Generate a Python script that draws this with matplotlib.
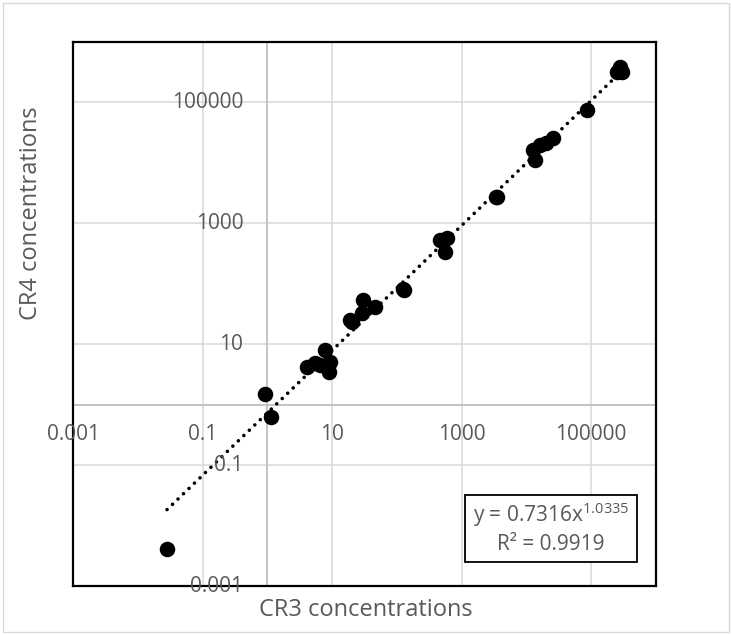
import numpy as np
import matplotlib
matplotlib.use("Agg")
import matplotlib.pyplot as plt
import matplotlib.transforms as mtrans
from matplotlib.patches import Rectangle

plt.rcParams['font.family'] = ['Open Sans', 'DejaVu Sans']
plt.rcParams['mathtext.fontset'] = 'custom'
plt.rcParams['mathtext.rm'] = 'Open Sans'

# data (log-log)
cr3 = [0.0283, 0.92, 1.14, 4.08, 5.43, 6.5, 7.75, 9.25, 8.93,
       18.8, 20.2, 28.8, 29.9, 45.7, 124, 130, 461, 592, 551,
       3490, 3400, 12560, 16100, 25500, 13500, 20000, 85500,
       248000, 296000, 276000]
cr4 = [0.0041, 1.48, 0.62, 4.17, 4.85, 4.5, 7.96, 5.03, 3.44,
       24.9, 23.1, 32.5, 53.3, 40.9, 81, 78, 524, 565, 332,
       2690, 2750, 16100, 19450, 25400, 11000, 21000, 73800,
       313000, 313000, 379000]

# power trendline reported on the chart
coef_a = 0.7316
coef_b = 1.0335
r2 = 0.9919

tick_vals = [1e-3, 1e-1, 1e1, 1e3, 1e5]
tick_labels = ["0.001", "0.1", "10", "1000", "100000"]

grey_txt = "#595959"

fig = plt.figure(figsize=(7.32, 6.35), dpi=100)
ax = fig.add_axes([73 / 732, 1 - 586 / 635, (656 - 73) / 732, (586 - 42) / 635])

ax.set_xscale('log')
ax.set_yscale('log')
ax.set_xlim(1e-3, 1e6)
ax.set_ylim(1e-3, 1e6)
ax.set_xticks(tick_vals)
ax.set_yticks(tick_vals)
ax.minorticks_off()
ax.tick_params(length=0, labelbottom=False, labelleft=False)
ax.grid(True, color="#d9d9d9", linewidth=1.1)
ax.set_axisbelow(True)
for sp in ax.spines.values():
    sp.set_color("black")
    sp.set_linewidth(1.6)

# axes crossing at 1
ax.axhline(1, color="#bfbfbf", linewidth=1.3, zorder=1)
ax.axvline(1, color="#bfbfbf", linewidth=1.3, zorder=1)

# tick labels next to the crossing axes
tx = mtrans.offset_copy(ax.transData, fig=fig, x=0, y=-30, units='dots')
for v, lab in zip(tick_vals, tick_labels):
    ax.text(v, 1, lab, transform=tx, ha='center', va='center',
            fontsize=15, color=grey_txt, clip_on=False)
ty = mtrans.offset_copy(ax.transData, fig=fig, x=-24, y=0, units='dots')
for v, lab in zip(tick_vals, tick_labels):
    ax.text(1, v, lab, transform=ty, ha='right', va='center',
            fontsize=15, color=grey_txt, clip_on=False)

# points
ax.scatter(cr3, cr4, s=125, color="black", zorder=3, linewidths=0)

# trendline
xs = np.logspace(np.log10(min(cr3)), np.log10(max(cr3)), 200)
ax.plot(xs, coef_a * xs ** coef_b, color="black", linewidth=2.6,
        linestyle=(0, (0.01, 2.1)), dash_capstyle='round', zorder=2)

# axis titles
fig.text(366 / 732, 1 - 610 / 635, "CR3 concentrations", ha='center', va='center',
         fontsize=17, color=grey_txt)
fig.text(31 / 732, 1 - 213 / 635, "CR4 concentrations", ha='center', va='center',
         rotation=90, fontsize=17, color=grey_txt)

# equation box
fig.patches.append(Rectangle((465 / 732, 1 - 562 / 635), (637 - 465) / 732, (562 - 495) / 635,
                             transform=fig.transFigure, facecolor="white",
                             edgecolor="black", linewidth=1.3, zorder=5))
fig.text(551 / 732, 1 - 515 / 635, r"y = 0.7316x$^{\mathregular{1.0335}}$",
         ha='center', va='center', fontsize=15, color=grey_txt, zorder=6)
fig.text(551 / 732, 1 - 545 / 635, "R² = %.4f" % r2,
         ha='center', va='center', fontsize=15, color=grey_txt, zorder=6)

# chart border
fig.patches.append(Rectangle((3 / 732, 3 / 635), 726 / 732, 629 / 635,
                             transform=fig.transFigure, facecolor="none",
                             edgecolor="#d9d9d9", linewidth=1))

fig.savefig("out.png", dpi=100)
